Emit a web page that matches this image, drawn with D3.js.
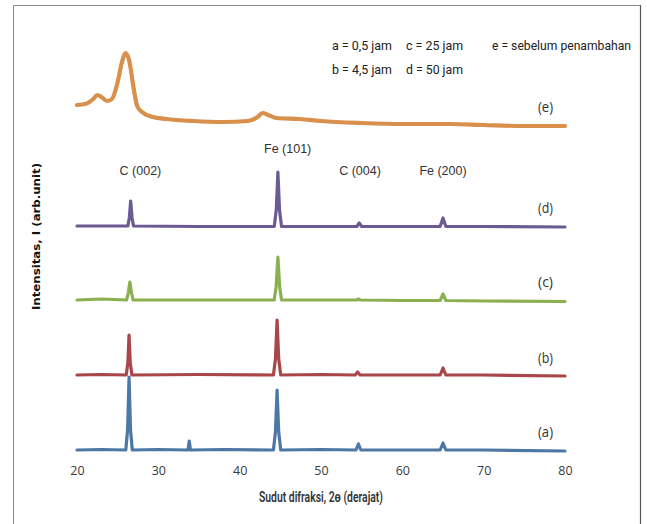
<!DOCTYPE html>
<html>
<head>
<meta charset="utf-8">
<script src="https://cdn.jsdelivr.net/npm/d3@7"></script>
<style>
  html, body { margin: 0; padding: 0; background: #fff; }
  svg { display: block; }
</style>
</head>
<body>
<svg id="chart" width="647" height="524"></svg>
<script>
// X-ray diffraction patterns, 2θ in degrees vs. intensity (arb. units)
const xTicks = [20, 30, 40, 50, 60, 70, 80];

// Series a–d: [2θ, intensity above own baseline]
const seriesA = [[20,0],[23,0.5],[26.0,0],[26.22,20],[26.4,73],[26.58,20],[26.8,0],[30,0.5],[33.65,0],[33.8,9],[33.95,0],[38,0.5],[44.15,0],[44.4,18],[44.6,60],[44.8,18],[45.05,0],[50,0.5],[54.3,0],[54.6,6],[54.9,0],[60,0],[64.65,0],[65.0,7],[65.35,0],[70,0],[80,-1]];
const seriesB = [[20,0],[23,0.5],[26.05,0],[26.25,12],[26.4,40],[26.55,12],[26.75,0],[35,0.5],[44.15,0],[44.4,16],[44.6,55],[44.8,16],[45.05,0],[50,0.5],[54.2,0],[54.5,3],[54.8,0],[60,0],[64.65,0],[65.0,7],[65.35,0],[70,0],[80,-1]];
const seriesC = [[20,0],[23,1],[26.1,0],[26.3,7],[26.5,18],[26.7,7],[26.9,0],[35,0],[44.25,0],[44.48,13],[44.7,43],[44.92,13],[45.15,0],[50,0],[54.35,0],[54.6,1],[54.85,0],[60,-0.5],[64.65,-0.5],[65.0,6],[65.35,-0.5],[70,-1],[80,-1.5]];
const seriesD = [[20,0],[23,0],[26.25,0],[26.43,8],[26.6,25],[26.77,8],[26.95,0],[35,-0.5],[44.25,-0.5],[44.5,16],[44.7,54],[44.9,16],[45.15,-0.5],[50,-0.5],[54.4,-0.5],[54.7,3],[55.0,-0.5],[60,-0.5],[64.65,-0.5],[65.0,8],[65.35,-0.5],[70,-0.5],[80,-1]];
// Series e: absolute intensity
const seriesE = [[20,345],[21,346],[22,351],[22.5,355],[23,353],[23.7,349],[24.3,351],[25,368],[25.5,387],[26.0,397],[26.4,390],[27.0,360],[27.4,344],[28,338],[29.3,333],[31,331],[34.3,329],[38,328],[41,329],[42.2,333],[42.8,337],[43.5,335],[44.5,332],[47.4,331],[50,329],[55,327],[60,326],[65.9,326],[70,325],[75,324],[80,324]];

const seriesNames = ["(a)", "(b)", "(c)", "(d)", "(e)"];
const seriesOffsets = [0, 75, 150, 224, 0];
const seriesColors = ["#4d78a6", "#a8464a", "#8cb04f", "#6a5b92", "#d8904c"];
const seriesList = [seriesA, seriesB, seriesC, seriesD, seriesE];

const peakLabels = ["C (002)", "Fe (101)", "C (004)", "Fe (200)"];
const peakLabelPos = [27.8, 45.9, 54.8, 65.0];
const legendRows = [["a = 0,5 jam", "c = 25 jam", "e = sebelum penambahan"], ["b = 4,5 jam", "d = 50 jam", ""]];

const svg = d3.select("#chart");
const narrow = "'Open Sans', sans-serif";

// frame
svg.append("line").attr("x1", 13.5).attr("y1", 5.5).attr("x2", 640.5).attr("y2", 5.5).attr("stroke", "#8a8a8a");
svg.append("line").attr("x1", 13.5).attr("y1", 5.5).attr("x2", 13.5).attr("y2", 524).attr("stroke", "#8a8a8a");
svg.append("line").attr("x1", 640.5).attr("y1", 5).attr("x2", 640.5).attr("y2", 524).attr("stroke", "#555").attr("stroke-width", 1.2);

const x = d3.scaleLinear().domain([20, 80]).range([77, 565]);
const y = d3.scaleLinear().domain([0, 400]).range([450, 50]);

// x axis (labels only)
const xAxis = svg.append("g").attr("transform", "translate(0,466)")
  .call(d3.axisBottom(x).tickValues(xTicks).tickSize(0).tickPadding(0).tickFormat(d3.format("d")));
xAxis.select(".domain").remove();
xAxis.selectAll("text").attr("fill", "#3a3a3a").attr("font-size", 12.5).attr("font-family", narrow);

// fit a text to a given width
function fit(sel, w) {
  return sel.attr("textLength", w).attr("lengthAdjust", "spacingAndGlyphs");
}

fit(svg.append("text").attr("x", 259).attr("y", 502)
  .attr("font-family", "Roboto, sans-serif").attr("font-size", 14)
  .attr("font-weight", 600).attr("fill", "#333")
  .text("Sudut difraksi,  2ɵ (derajat)"), 124);

fit(svg.append("text").attr("transform", "translate(40,310) rotate(-90)")
  .attr("font-family", "'DejaVu Sans', sans-serif").attr("font-size", 10.5).attr("font-weight", "bold")
  .attr("fill", "#111").text("Intensitas, I (arb.unit)"), 147);

// curves
const line = d3.line().x(d => x(d[0])).y(d => y(d[1]));
const smooth = d3.line().x(d => x(d[0])).y(d => y(d[1])).curve(d3.curveMonotoneX);
seriesList.forEach((s, i) => {
  const pts = s.map(d => [d[0], d[1] + seriesOffsets[i]]);
  svg.append("path").datum(pts).attr("d", i === 4 ? smooth : line).attr("fill", "none")
    .attr("stroke", seriesColors[i]).attr("stroke-width", i === 4 ? 4.2 : 3.2)
    .attr("stroke-linejoin", "round").attr("stroke-linecap", "round");
});

// series labels
const labelY = [432, 358, 282, 208, 107];
seriesNames.forEach((n, i) => {
  fit(svg.append("text").attr("x", 538).attr("y", labelY[i]).attr("dy", "0.35em")
    .attr("font-family", narrow).attr("font-size", 14)
    .attr("fill", "#333").text(n), 15);
});

// peak labels
peakLabels.forEach((t, i) => {
  svg.append("text").attr("x", x(peakLabelPos[i])).attr("y", i === 1 ? 153 : 175).attr("text-anchor", "middle")
    .attr("font-family", "'Liberation Sans', Arial, sans-serif").attr("font-size", 12.5)
    .attr("fill", "#333").text(t);
});

// legend
const legendX = [332, 406, 492];
const legendW = [[60, 57, 139], [60, 57, 0]];
legendRows.forEach((row, r) => {
  row.forEach((t, c) => {
    if (!t) return;
    fit(svg.append("text").attr("x", legendX[c]).attr("y", 50 + r * 24)
      .attr("font-family", "Roboto, sans-serif").attr("font-size", 13.5)
      .attr("fill", "#222").text(t), legendW[r][c]);
  });
});
</script>
</body>
</html>
